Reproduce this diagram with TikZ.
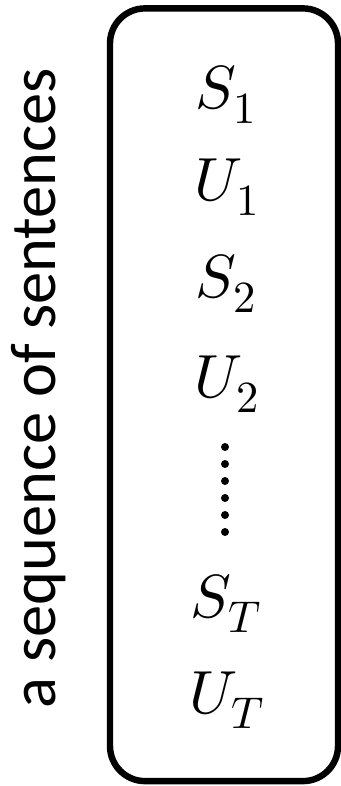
\documentclass[tikz,border=0pt]{standalone}
\usepackage{fontspec}
\usepackage{unicode-math}
\setmainfont{Carlito}
\setmathfont{Latin Modern Math}
\newcommand\bigsub[1]{_{\hbox{\fontsize{38}{40}\selectfont$#1$}}}
\usetikzlibrary{positioning}

\begin{document}
\begin{tikzpicture}[
    x=0.03cm, y=-0.03cm,
    seqbox/.style={draw, line width=5.5pt, rounded corners=1.05cm, minimum width=6.84cm, minimum height=23.18cm},
    sym/.style={anchor=base, inner sep=0pt, font=\fontsize{52}{60}\selectfont},
    lbl/.style={anchor=base, rotate=90, inner sep=0pt, font=\fontsize{55}{66}\selectfont}
]
\useasboundingbox (0,0) rectangle (341,786);

\node[seqbox] (seq) at (224,394.75) {};

\node[lbl] (title) at (55,388) {a sequence of sentences};

\node[sym] (s1) at (226,108) {$S\bigsub{1}$};
\node[sym] (u1) at (227,200) {$U\bigsub{1}$};
\node[sym] (s2) at (226,297) {$S\bigsub{2}$};
\node[sym] (u2) at (227,397) {$U\bigsub{2}$};
\node[sym] (st) at (226,617) {$S\bigsub{T}$};
\node[sym] (ut) at (227,713) {$U\bigsub{T}$};

% vertical dots
\foreach \y in {447,464,481,498,515,532}
    \fill (225,\y) circle (4);
\end{tikzpicture}
\end{document}
